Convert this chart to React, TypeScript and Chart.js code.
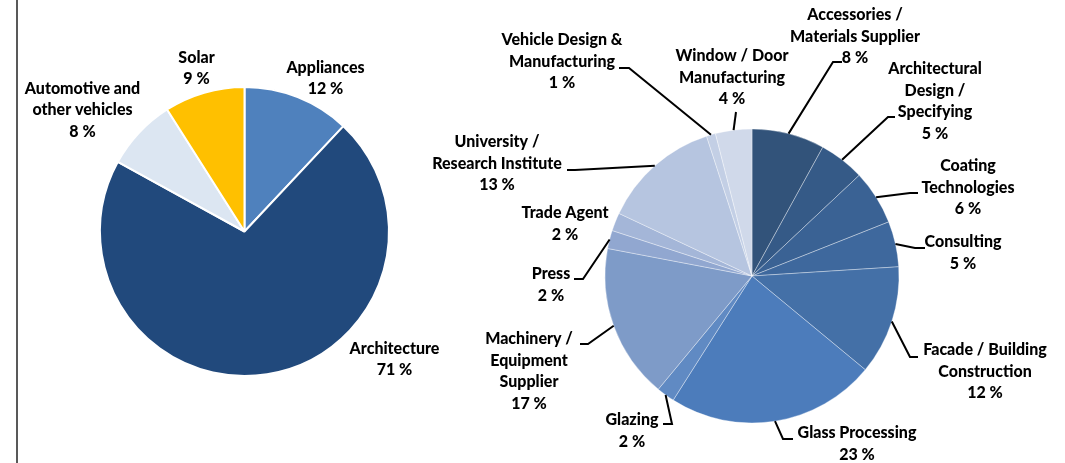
import React, { useEffect, useRef } from "react";
import { Chart, registerables } from "chart.js";

Chart.register(...registerables);

// ---- Left pie data ----
const leftCategories = ["Appliances", "Architecture", "Automotive and other vehicles", "Solar"];
const leftValues = [12, 71, 8, 9];
const leftLabelLines = [["Appliances"], ["Architecture"], ["Automotive and", "other vehicles"], ["Solar"]];
const leftColors = ["#4F81BD", "#21497C", "#DCE6F2", "#FFC000"];

// ---- Right pie data ----
const rightCategories = [
  "Accessories / Materials Supplier",
  "Architectural Design / Specifying",
  "Coating Technologies",
  "Consulting",
  "Facade / Building Construction",
  "Glass Processing",
  "Glazing",
  "Machinery / Equipment Supplier",
  "Press",
  "Trade Agent",
  "University / Research Institute",
  "Vehicle Design & Manufacturing",
  "Window / Door Manufacturing",
];
const rightValues = [8, 5, 6, 5, 12, 23, 2, 17, 2, 2, 13, 1, 4];
const rightLabelLines = [
  ["Accessories /", "Materials Supplier"],
  ["Architectural", "Design /", "Specifying"],
  ["Coating", "Technologies"],
  ["Consulting"],
  ["Facade / Building", "Construction"],
  ["Glass Processing"],
  ["Glazing"],
  ["Machinery /", "Equipment", "Supplier"],
  ["Press"],
  ["Trade Agent"],
  ["University /", "Research Institute"],
  ["Vehicle Design &", "Manufacturing"],
  ["Window / Door", "Manufacturing"],
];
const rightColors = [
  "rgb(50,83,122)",
  "rgb(53,90,135)",
  "rgb(58,98,148)",
  "rgb(62,104,157)",
  "rgb(68,112,167)",
  "rgb(76,124,187)",
  "rgb(96,138,195)",
  "rgb(126,155,200)",
  "rgb(145,167,208)",
  "rgb(164,182,216)",
  "rgb(182,197,224)",
  "rgb(195,207,229)",
  "rgb(208,217,234)",
];

// ---- Label layout (offsets from pie centre: text anchor [x, firstLineY], leader elbow, leader end) ----
type LabelLayout = { text: [number, number]; elbow?: [number, number]; end?: [number, number] };
const leftLayout: LabelLayout[] = [
  { text: [81, -164] },
  { text: [150, 117] },
  { text: [-162, -143] },
  { text: [-48, -174] },
];
const rightLayout: LabelLayout[] = [
  { text: [103, -261], elbow: [81, -214], end: [90, -214] },
  { text: [183, -207], elbow: [136, -159], end: [143, -159] },
  { text: [216, -110], elbow: [158, -83], end: [166, -83] },
  { text: [211, -34], elbow: [163, -28], end: [173, -28] },
  { text: [233, 74], elbow: [158, 81], end: [166, 81] },
  { text: [105, 157], elbow: [31, 163], end: [41, 163] },
  { text: [-120, 144], elbow: [-80, 148], end: [-89, 148] },
  { text: [-223, 63], elbow: [-164, 68], end: [-172, 68] },
  { text: [-201, -2], elbow: [-169, 3], end: [-178, 3] },
  { text: [-187, -63] },
  { text: [-255, -134], elbow: [-177, -106], end: [-185, -106] },
  { text: [-190, -236], elbow: [-123, -208], end: [-133, -208] },
  { text: [-20, -220], elbow: [-16, -164], end: [-16, -164] },
];

const FONT = "900 16px Lato";
const LINE_H = 21.5;

function labelPlugin(id: string, lines: string[][], layout: LabelLayout[]) {
  return {
    id,
    afterDatasetsDraw(chart: any) {
      const ctx = chart.ctx;
      const meta = chart.getDatasetMeta(0);
      const values = chart.data.datasets[0].data as number[];
      ctx.save();
      meta.data.forEach((arc: any, i: number) => {
        const { x, y, startAngle, endAngle, outerRadius } = arc.getProps(
          ["x", "y", "startAngle", "endAngle", "outerRadius"],
          true
        );
        const lay = layout[i];
        if (lay.elbow && lay.end) {
          const mid = (startAngle + endAngle) / 2;
          const sx = x + Math.cos(mid) * outerRadius;
          const sy = y + Math.sin(mid) * outerRadius;
          ctx.beginPath();
          ctx.strokeStyle = "#000";
          ctx.lineWidth = 2;
          ctx.moveTo(sx, sy);
          ctx.lineTo(x + lay.elbow[0], y + lay.elbow[1]);
          ctx.lineTo(x + lay.end[0], y + lay.end[1]);
          ctx.stroke();
        }
        const all = [...lines[i], `${values[i]} %`];
        ctx.font = FONT;
        ctx.fillStyle = "#000";
        ctx.textAlign = "center";
        ctx.textBaseline = "middle";
        all.forEach((t, k) => {
          ctx.fillText(t, x + lay.text[0], y + lay.text[1] + k * LINE_H);
        });
      });
      ctx.restore();
    },
  };
}

const W = 1065;
const H = 463;

export default function App() {
  const leftRef = useRef<HTMLCanvasElement>(null);
  const rightRef = useRef<HTMLCanvasElement>(null);

  useEffect(() => {
    document.body.style.margin = "0";
    const left = new Chart(leftRef.current!, {
      type: "pie",
      data: {
        labels: leftCategories,
        datasets: [
          {
            data: leftValues,
            backgroundColor: leftColors,
            borderColor: "#FFFFFF",
            borderWidth: 2,
          },
        ],
      },
      options: {
        responsive: false,
        animation: false,
        layout: { padding: { left: 99, top: 86, right: W - 99 - 291, bottom: H - 86 - 291 } },
        plugins: { legend: { display: false }, tooltip: { enabled: false }, title: { display: false } },
      },
      plugins: [labelPlugin("leftLabels", leftLabelLines, leftLayout)],
    });
    const right = new Chart(rightRef.current!, {
      type: "pie",
      data: {
        labels: rightCategories,
        datasets: [
          {
            data: rightValues,
            backgroundColor: rightColors,
            borderColor: "rgba(255,255,255,0.35)",
            borderWidth: 1,
          },
        ],
      },
      options: {
        responsive: false,
        animation: false,
        layout: { padding: { left: 604.5, top: 128.5, right: W - 604.5 - 295, bottom: H - 128.5 - 295 } },
        plugins: { legend: { display: false }, tooltip: { enabled: false }, title: { display: false } },
      },
      plugins: [labelPlugin("rightLabels", rightLabelLines, rightLayout)],
    });
    return () => {
      left.destroy();
      right.destroy();
    };
  }, []);

  return (
    <div style={{ position: "relative", width: W, height: H, background: "#fff", overflow: "hidden" }}>
      <div style={{ position: "absolute", left: 16, top: 0, width: 2, height: H, background: "#595959" }} />
      <canvas ref={leftRef} width={W} height={H} style={{ position: "absolute", left: 0, top: 0 }} />
      <canvas ref={rightRef} width={W} height={H} style={{ position: "absolute", left: 0, top: 0 }} />
    </div>
  );
}
